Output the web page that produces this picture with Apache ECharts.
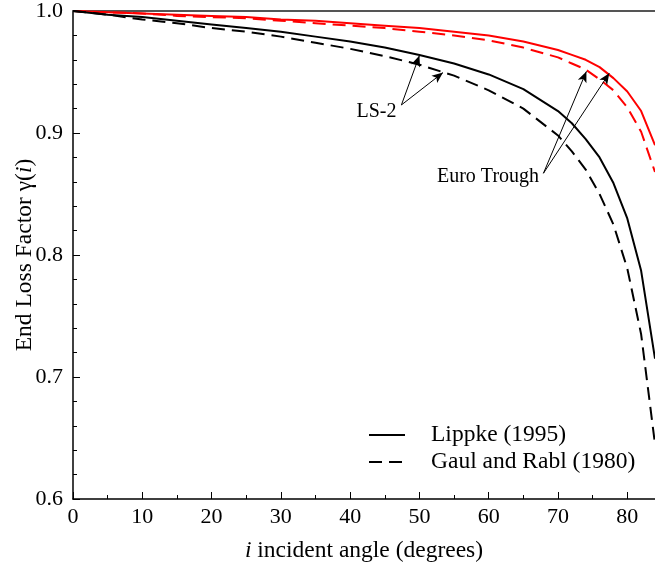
<!DOCTYPE html>
<html>
<head>
<meta charset="utf-8">
<script src="https://cdn.jsdelivr.net/npm/echarts@6/dist/echarts.min.js"></script>
<style>html,body{margin:0;padding:0;background:#fff;}#c{width:655px;height:567px;}</style>
</head>
<body>
<div id="c"></div>
<script>
// incident angle (degrees)
const angles = [0, 5, 10, 15, 20, 25, 30, 35, 40, 45, 50, 55, 60, 65, 70, 72, 74, 76, 78, 80, 82, 84];
// LS-2 collector
const ls2Lippke = [1.000, 0.997, 0.995, 0.992, 0.989, 0.986, 0.983, 0.979, 0.975, 0.970, 0.964, 0.957, 0.948, 0.936, 0.918, 0.908, 0.895, 0.880, 0.859, 0.830, 0.787, 0.715];
const ls2GaulRabl = [1.000, 0.997, 0.993, 0.990, 0.986, 0.983, 0.979, 0.974, 0.969, 0.963, 0.956, 0.947, 0.935, 0.920, 0.898, 0.885, 0.870, 0.850, 0.825, 0.789, 0.735, 0.645];
// Euro Trough collector
const euroLippke = [1.000, 0.999, 0.998, 0.997, 0.996, 0.995, 0.993, 0.992, 0.990, 0.988, 0.986, 0.983, 0.980, 0.975, 0.968, 0.964, 0.960, 0.954, 0.945, 0.934, 0.918, 0.890];
const euroGaulRabl = [1.000, 0.999, 0.998, 0.996, 0.995, 0.994, 0.992, 0.990, 0.988, 0.986, 0.983, 0.980, 0.976, 0.970, 0.962, 0.957, 0.952, 0.944, 0.935, 0.921, 0.901, 0.868];
const xTicks = [0, 10, 20, 30, 40, 50, 60, 70, 80];
const yTicks = ['0.6', '0.7', '0.8', '0.9', '1.0'];
const legendNames = ['Lippke (1995)', 'Gaul and Rabl (1980)'];
// annotations (data coords)
const ls2Label = {text: 'LS-2', pos: [43.8, 0.9175]};
const ls2Arrows = [[[47.4, 0.923], [50.0, 0.9635]], [[47.4, 0.923], [53.4, 0.9495]]];
const euroLabel = {text: 'Euro Trough', pos: [59.9, 0.864]};
const euroArrows = [[[67.9, 0.867], [74.1, 0.9505]], [[67.9, 0.867], [77.4, 0.949]]];

const FONT = "'Liberation Serif','Times New Roman',serif";
const pairs = v => angles.map((a, i) => [a, v[i]]);
const DASH = [13, 7];

const chart = echarts.init(document.getElementById('c'), null, {renderer: 'canvas'});
const arrowLine = segs => ({
  silent: true, symbol: ['none', 'arrow'], symbolSize: [7, 11],
  lineStyle: {color: '#000', width: 1, type: 'solid'}, label: {show: false},
  emphasis: {disabled: true},
  data: segs.map(s => [{coord: s[0]}, {coord: s[1]}])
});
const textSeries = (l) => ({
  type: 'scatter', silent: true, symbolSize: 0, itemStyle: {color: '#000', opacity: 1},
  label: {show: true, formatter: l.text, color: '#000', fontFamily: FONT, fontSize: 20,
    position: 'inside', textBorderWidth: 0, textBorderColor: 'transparent', opacity: 1},
  emphasis: {disabled: true},
  data: [l.pos], z: 5
});

chart.setOption({
  animation: false,
  backgroundColor: '#fff',
  grid: {left: 73, right: 0, top: 11, bottom: 68, containLabel: false, outerBoundsMode: 'none'},
  legend: {
    orient: 'vertical', left: 363, top: 418, itemWidth: 36, itemHeight: 14, itemGap: 3,
    data: legendNames,
    textStyle: {fontFamily: FONT, fontSize: 23.5, lineHeight: 23, color: '#000', padding: [0, 0, 0, 21]},
    itemStyle: {opacity: 0}
  },
  xAxis: [{
    type: 'value', min: 0, max: 84, interval: 10,
    name: '{it|i} incident angle (degrees)', nameLocation: 'middle', nameGap: 40,
    nameMoveOverlap: false,
    nameTextStyle: {fontFamily: FONT, fontSize: 23.5, color: '#000',
      rich: {it: {fontFamily: FONT, fontSize: 23.5, fontStyle: 'italic', color: '#000'}}},
    axisLine: {show: true, onZero: false, lineStyle: {color: '#000', width: 1.5}},
    axisTick: {show: true, inside: true, length: 7, lineStyle: {color: '#000', width: 1}},
    minorTick: {show: true, splitNumber: 2, length: 4, lineStyle: {color: '#000', width: 1}},
    splitLine: {show: false},
    axisLabel: {fontFamily: FONT, fontSize: 22, color: '#000', margin: 7,
      formatter: v => xTicks.includes(v) ? String(v) : ''}
  }, {
    type: 'value', position: 'top', min: 0, max: 84,
    axisLine: {show: true, lineStyle: {color: '#555', width: 2}},
    axisTick: {show: false}, axisLabel: {show: false}, splitLine: {show: false}
  }],
  yAxis: {
    type: 'value', min: 0.6, max: 1.0, interval: 0.1,
    name: 'End Loss Factor γ({it|i})', nameLocation: 'middle', nameGap: 36,
    nameMoveOverlap: false,
    nameTextStyle: {fontFamily: FONT, fontSize: 23.5, color: '#000',
      rich: {it: {fontFamily: FONT, fontSize: 23.5, fontStyle: 'italic', color: '#000'}}},
    axisLine: {show: true, lineStyle: {color: '#000', width: 1.5}},
    axisTick: {show: true, inside: true, length: 7, lineStyle: {color: '#000', width: 1}},
    minorTick: {show: true, splitNumber: 5, length: 4, lineStyle: {color: '#000', width: 1}},
    splitLine: {show: false},
    axisLabel: {fontFamily: FONT, fontSize: 22, color: '#000', margin: 10,
      formatter: v => yTicks[Math.round((v - 0.6) * 10)] || ''}
  },
  series: [
    {name: legendNames[0], type: 'line', data: pairs(ls2Lippke), symbol: 'none', showSymbol: false,
      lineStyle: {color: '#000', width: 2, type: 'solid'}, itemStyle: {color: '#000'}, z: 3,
      markLine: arrowLine(ls2Arrows)},
    {name: legendNames[1], type: 'line', data: pairs(ls2GaulRabl), symbol: 'none', showSymbol: false,
      lineStyle: {color: '#000', width: 2, type: DASH}, itemStyle: {color: '#000'}, z: 3},
    {name: 'Euro Lippke', type: 'line', data: pairs(euroLippke), symbol: 'none', showSymbol: false,
      lineStyle: {color: '#ff0000', width: 2, type: 'solid'}, itemStyle: {color: '#ff0000'}, z: 2,
      markLine: arrowLine(euroArrows)},
    {name: 'Euro Gaul', type: 'line', data: pairs(euroGaulRabl), symbol: 'none', showSymbol: false,
      lineStyle: {color: '#ff0000', width: 2, type: DASH}, itemStyle: {color: '#ff0000'}, z: 2},
    textSeries(ls2Label),
    textSeries(euroLabel)
  ]
});
</script>
</body>
</html>
